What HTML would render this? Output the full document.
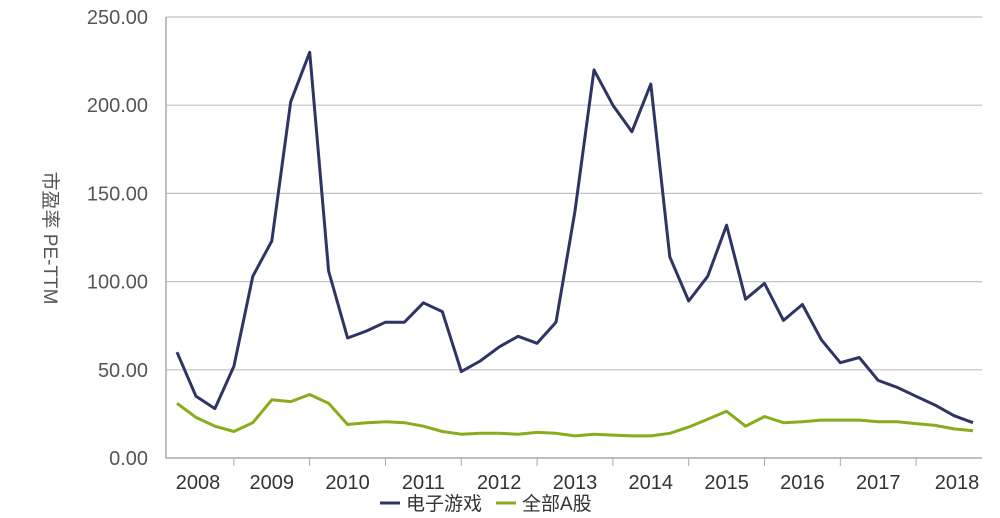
<!DOCTYPE html>
<html><head><meta charset="utf-8"><style>
html,body{margin:0;padding:0;background:#fff;}
svg{display:block;font-family:"Liberation Sans","Noto Sans CJK SC",sans-serif;}
</style></head><body>
<svg id="chart" width="1000" height="518" viewBox="0 0 1000 518">
<g id="grid"></g><g id="axes"></g><g id="series"></g>
<text transform="translate(44,238) rotate(90)" text-anchor="middle" font-size="19" fill="#555">市盈率 PE-TTM</text>
<g>
<g><line x1="380" y1="503" x2="400" y2="503" stroke="#2e3564" stroke-width="3"/><text x="406" y="510" font-size="19" fill="#333">电子游戏</text></g>
<g><line x1="496" y1="503" x2="516" y2="503" stroke="#8aab1c" stroke-width="3"/><text x="522" y="510" font-size="19" fill="#333">全部A股</text></g>
</g>
</svg>
<script>
const yTicks=[0,50,100,150,200,250];
const yearLabels=["2008","2009","2010","2011","2012","2013","2014","2015","2016","2017","2018"];
const gamesPE=[60,35,28,52,103,123,202,230,106,68,72,77,77,88,83,49,55,63,69,65,77,140,220,200,185,212,114,89,103,132,90,99,78,87,67,54,57,44,40,35,30,24,20];
const allAPE=[31,23,18,15,20,33,32,36,31,19,20,20.5,20,18,15,13.5,14,14,13.5,14.5,14,12.5,13.5,13,12.5,12.5,14,17.5,22,26.5,18,23.5,20,20.5,21.5,21.5,21.5,20.5,20.5,19.5,18.5,16.5,15.5];
const NS="http://www.w3.org/2000/svg";
const L=166,R=982,T=17,B=458,yMax=250;
const X0=177,X1=973;
function sy(v){return B-(v/yMax)*(B-T);}
function sx(i,n){return X0+(X1-X0)*i/(n-1);}
function mk(tag,attrs,parent){const e=document.createElementNS(NS,tag);for(const k in attrs)e.setAttribute(k,attrs[k]);document.getElementById(parent).appendChild(e);return e;}
yTicks.forEach(v=>{
  if(v>0){const g=mk('line',{x1:L,x2:R,y1:sy(v),y2:sy(v),stroke:'#c4c4c4','stroke-width':1.2},'grid');
  
  }
  const t=mk('text',{x:148,y:sy(v)+7,'text-anchor':'end','font-size':20,fill:'#555'},'axes');
  t.textContent=v.toFixed(2);
  
  
});
const ax=mk('path',{d:`M${L},${T} V${B} H${R}`,fill:'none',stroke:'#aaa','stroke-width':1.5},'axes');


const step=(X1-X0)/(gamesPE.length-1);
const tick0=X0+3*step, yearW=4*step;
for(let k=0;k<10;k++){
  const tx=tick0+k*yearW;
  const tk=mk('line',{x1:tx,x2:tx,y1:B,y2:B+8,stroke:'#aaa','stroke-width':1},'axes');
  
  
}
yearLabels.forEach((y,k)=>{
  let cx=tick0+(k-0.5)*yearW;
  if(k===0)cx=198; if(k===yearLabels.length-1)cx=957;
  const t=mk('text',{x:cx,y:489,'text-anchor':'middle','font-size':20,fill:'#333'},'axes');
  t.textContent=y;
  
  
});
function line(data,color,name){
  const d=data.map((v,i)=>(i?'L':'M')+sx(i,data.length).toFixed(1)+','+sy(v).toFixed(1)).join(' ');
  const p=mk('path',{d:d,fill:'none',stroke:color,'stroke-width':3,'stroke-linejoin':'round'},'series');
  
  
}
line(allAPE,'#8aab1c','line-all-a-shares');
line(gamesPE,'#2e3564','line-video-games');
</script>
</body></html>
